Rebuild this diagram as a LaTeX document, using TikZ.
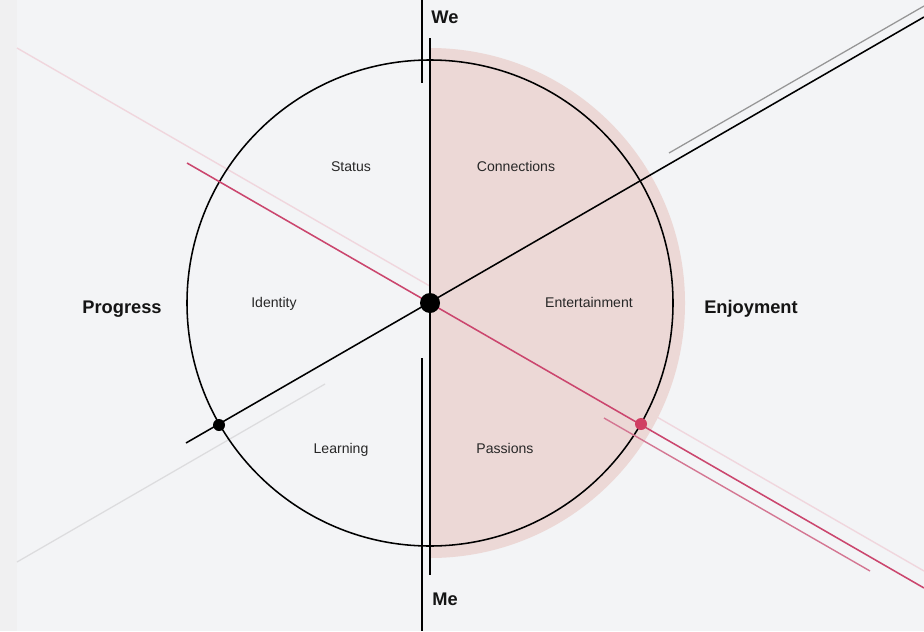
\documentclass[tikz,border=0pt]{standalone}
\usepackage{fontspec}
\setmainfont{Liberation Sans}
\usepackage{tikz}
\definecolor{bgpaper}{RGB}{243,244,246}
\definecolor{bgstrip}{RGB}{240,240,241}
\definecolor{halfpink}{RGB}{236,216,214}
\definecolor{rosemain}{RGB}{203,70,110}
\definecolor{rosemid}{RGB}{212,118,146}
\definecolor{rosefaint}{RGB}{240,214,221}
\definecolor{greymid}{RGB}{150,150,150}
\definecolor{greyfaint}{RGB}{220,220,222}
\definecolor{inkdark}{RGB}{20,20,20}
\tikzstyle{axis} = [line width=1.1pt, black]
\tikzstyle{lbl} = [anchor=base, inner sep=0pt, font=\fontsize{10}{12}\selectfont, text=inkdark!92]
\tikzstyle{pole} = [anchor=base, inner sep=0pt, font=\fontsize{13}{15}\selectfont\bfseries, text=inkdark]

\begin{document}
\begin{tikzpicture}[x=0.025cm, y=-0.025cm]
	\useasboundingbox (0,0) rectangle (924,631);
	\fill[bgpaper] (0,0) rectangle (924,631);
	\fill[bgstrip] (0,0) rectangle (17,631);
	\coordinate (O) at (430,303);

	% faint lines behind the shaded half
	\draw[rosefaint, line width=1pt] (17,48) -- (924,571);
	\begin{scope}
		\clip (430,0) rectangle (924,631);
		\fill[halfpink] (O) circle[radius=255];
	\end{scope}
	\draw[greyfaint, line width=0.9pt] (17,562) -- (325,384);
	\draw[greymid, line width=0.9pt] (669,153) -- (924,6);

	\draw[axis] (O) circle[radius=243];
	\draw[axis] (422,0) -- (422,83);
	\draw[axis] (422,358) -- (422,631);
	\draw[axis] (430,38) -- (430,575);
	\draw[axis] (186,443) -- (924,17);

	\draw[rosemain, line width=1.1pt] (187,163) -- (924,588);
	\draw[rosemid, line width=1pt] (604,418) -- (870,571);

	\fill[black] (O) circle[radius=10];
	\fill[black] (219,425) circle[radius=6];
	\fill[rosemain!90!red] (641,424) circle[radius=6];

	\node[pole] (we) at (445,23) {We};
	\node[pole] (me) at (445,605) {Me};
	\node[pole] (progress) at (122,313) {Progress};
	\node[pole] (enjoyment) at (751,313) {Enjoyment};

	\node[lbl] (status) at (351,171) {Status};
	\node[lbl] (connections) at (516,171) {Connections};
	\node[lbl] (identity) at (274,307) {Identity};
	\node[lbl] (entertainment) at (589,307) {Entertainment};
	\node[lbl] (learning) at (341,453) {Learning};
	\node[lbl] (passions) at (505,453) {Passions};
\end{tikzpicture}
\end{document}
